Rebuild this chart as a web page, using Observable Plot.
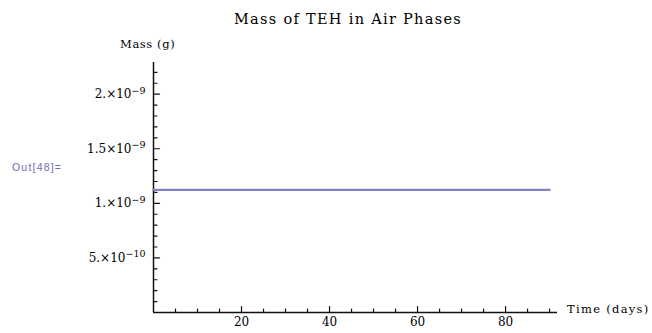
<!DOCTYPE html>
<html>
<head>
<meta charset="utf-8">
<script src="https://cdn.jsdelivr.net/npm/d3@7"></script>
<script src="https://cdn.jsdelivr.net/npm/@observablehq/plot@0.6"></script>
<style>
  html, body { margin: 0; padding: 0; background: #fff; }
  #wrap { position: relative; width: 652px; height: 333px; font-family: "DejaVu Serif", "Liberation Serif", serif; }
  #wrap svg { position: absolute; left: 0; top: 0; }
  .lbl { position: absolute; white-space: nowrap; color: #000; }
  #title { left: 0; width: 696px; text-align: center; top: 11px; font-size: 14.5px; letter-spacing: 1.3px; }
  #ylab { left: 120px; top: 37px; font-size: 11.5px; letter-spacing: 0.6px; }
  #xlab { left: 567px; top: 302px; font-size: 11.5px; letter-spacing: 1.3px; }
  #out { left: 12px; top: 161px; font-size: 10.5px; letter-spacing: 1.2px; color: #6e6eb4; font-family: "Liberation Sans", Arial, sans-serif; }
</style>
</head>
<body>
<div id="wrap">
  <div class="lbl" id="title">Mass of TEH in Air Phases</div>
  <div class="lbl" id="ylab">Mass (g)</div>
  <div class="lbl" id="xlab">Time (days)</div>
  <div class="lbl" id="out">Out[48]=</div>
</div>
<script>
const timeDays = [0, 90];
const massGrams = [1.123e-9, 1.123e-9];
const xMajorTicks = [20, 40, 60, 80];
const xMinorTicks = [5, 10, 15, 25, 30, 35, 45, 50, 55, 65, 70, 75, 85, 90];
const yMajorTicks = [5e-10, 1e-9, 1.5e-9, 2e-9];
const yMantissas = ["5.", "1.", "1.5", "2."];
const yExponents = ["\u221210", "\u22129", "\u22129", "\u22129"];
const yMinorTicks = [1e-10, 2e-10, 3e-10, 4e-10, 6e-10, 7e-10, 8e-10, 9e-10, 1.1e-9, 1.2e-9, 1.3e-9, 1.4e-9, 1.6e-9, 1.7e-9, 1.8e-9, 1.9e-9, 2.1e-9, 2.2e-9];

const data = timeDays.map((t, i) => ({t, m: massGrams[i]}));
const yIndex = new Map(yMajorTicks.map((v, i) => [v, i]));
const ink = "#111";
const tickShape = {draw(context, l) { context.moveTo(0, 0); context.lineTo(0, -l); }};

const chart = Plot.plot({
  width: 652,
  height: 333,
  marginLeft: 153,
  marginRight: 95,
  marginTop: 62,
  marginBottom: 21,
  style: {fontFamily: "'DejaVu Serif', 'Liberation Serif', serif", fontSize: "12px", color: "#000", background: "transparent"},
  x: {domain: [0, 91.8]},
  y: {domain: [0, 2.29e-9]},
  marks: [
    // inward tick marks (Mathematica style)
    Plot.vector(xMinorTicks, {x: d => d, y: 0, length: 3.5, rotate: 0, anchor: "start", shape: tickShape, stroke: ink, strokeWidth: 1.2}),
    Plot.vector(xMajorTicks, {x: d => d, y: 0, length: 6, rotate: 0, anchor: "start", shape: tickShape, stroke: ink, strokeWidth: 1.2}),
    Plot.vector(yMinorTicks, {x: 0, y: d => d, length: 3.5, rotate: 90, anchor: "start", shape: tickShape, stroke: ink, strokeWidth: 1.2}),
    Plot.vector(yMajorTicks, {x: 0, y: d => d, length: 6, rotate: 90, anchor: "start", shape: tickShape, stroke: ink, strokeWidth: 1.2}),
    Plot.axisX({ticks: xMajorTicks, tickSize: 0, tickPadding: 5, label: null, tickFormat: d => String(d)}),
    Plot.axisY({ticks: yMajorTicks, tickSize: 0, tickPadding: 8, label: null, tickFormat: d => "Y" + yIndex.get(d)}),
    Plot.ruleY([0], {stroke: ink, strokeWidth: 1.5}),
    Plot.ruleX([0], {stroke: ink, strokeWidth: 1.5}),
    Plot.line(data, {x: "t", y: "m", stroke: "#8282c2", strokeWidth: 2.2})
  ]
});
// Turn Y-axis tick labels into mantissa × 10 with a superscript exponent
d3.select(chart).selectAll("text").each(function() {
  const s = this.textContent;
  if (/^Y\d$/.test(s)) {
    const i = +s.slice(1);
    const t = d3.select(this);
    t.text(null);
    t.append("tspan").text(yMantissas[i] + "\u00d710");
    t.append("tspan").attr("dy", "-0.45em").attr("font-size", "9.5px").text(yExponents[i]);
  }
});
document.getElementById("wrap").appendChild(chart);
</script>
</body>
</html>
